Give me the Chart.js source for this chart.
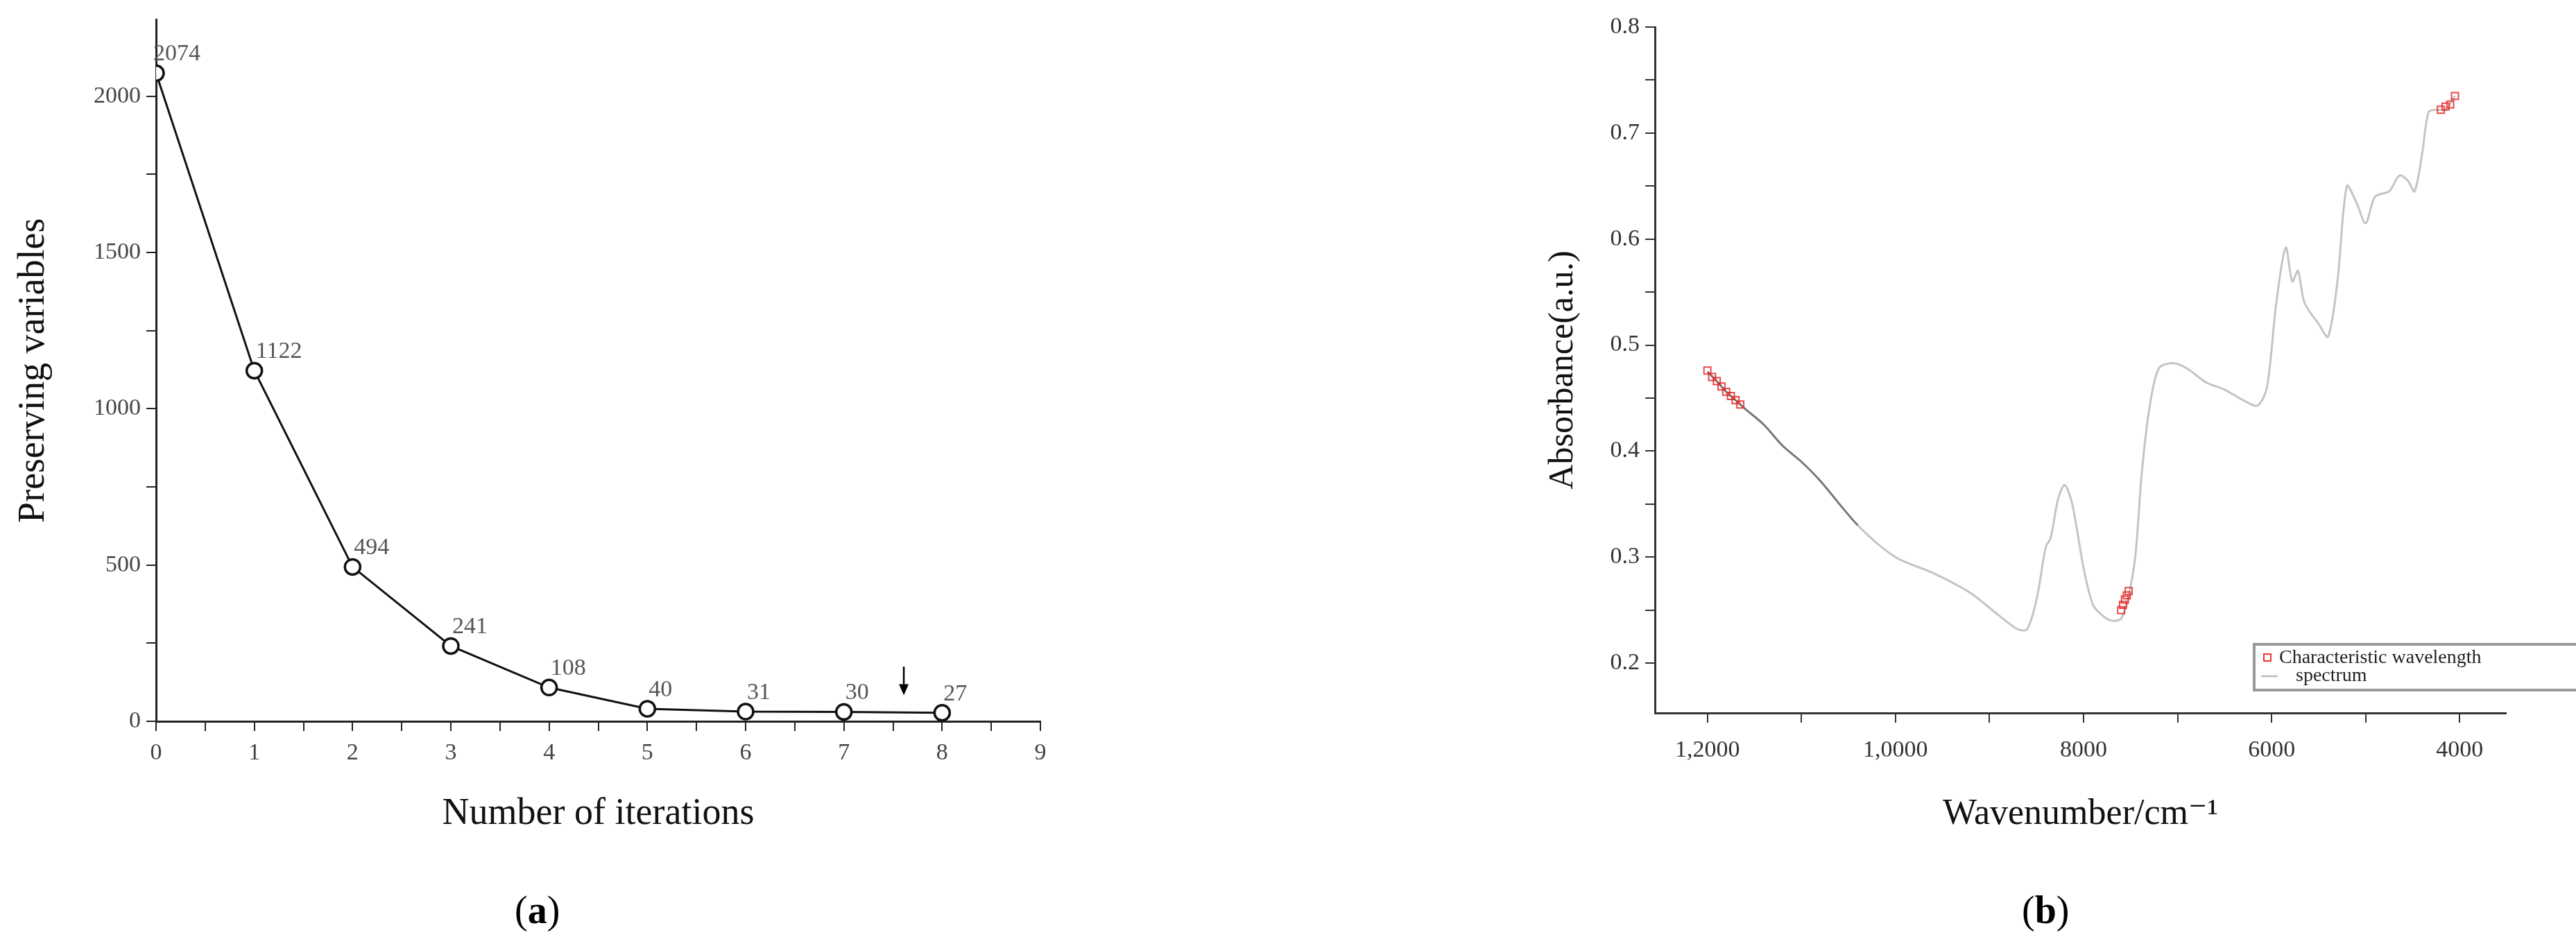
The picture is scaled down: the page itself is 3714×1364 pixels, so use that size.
<!DOCTYPE html>
<html><head><meta charset="utf-8">
<script src="https://cdn.jsdelivr.net/npm/chart.js@4"></script>
<style>
body{margin:0;background:#fff;width:3714px;height:1364px;position:relative;overflow:hidden;font-family:"Liberation Serif","DejaVu Serif",serif}
canvas{position:absolute;top:0}
.cap{position:absolute;top:1280px;font-size:56px;color:#000}
</style></head><body>
<canvas id="c1" width="1560" height="1210" style="left:0"></canvas>
<canvas id="c2" width="1494" height="1210" style="left:2220px"></canvas>
<div class="cap" style="left:742px">(<b>a</b>)</div>
<div class="cap" style="left:2915px">(<b>b</b>)</div>
<script>
const iterations=[0,1,2,3,4,5,6,7,8];
const preserved=[2074,1122,494,241,108,40,31,30,27];
const iterTicks=[0,0.5,1,1.5,2,2.5,3,3.5,4,4.5,5,5.5,6,6.5,7,7.5,8,8.5,9];
const varTicks=[0,250,500,750,1000,1250,1500,1750,2000];
const arrowPos=[7.61,175,83];

const waveNum=[12000,11900,11800,11700,11600,11400,11200,11000,10800,10400,10000,9600,9200,8900,8700,8600,8500,8400,8350,8270,8200,8120,8000,7900,7800,7700,7600,7530,7450,7380,7300,7200,7050,6900,6700,6500,6300,6150,6050,5950,5850,5780,5720,5650,5500,5400,5300,5200,5100,5000,4900,4750,4640,4550,4480,4400,4330,4250,4150,4050];
const absorb=[0.475,0.466,0.456,0.448,0.44,0.425,0.405,0.39,0.372,0.33,0.30,0.285,0.266,0.245,0.232,0.232,0.26,0.31,0.318,0.355,0.368,0.35,0.29,0.255,0.245,0.24,0.242,0.26,0.30,0.38,0.44,0.478,0.483,0.478,0.465,0.458,0.448,0.443,0.46,0.54,0.592,0.56,0.57,0.54,0.52,0.508,0.56,0.65,0.635,0.615,0.64,0.645,0.66,0.655,0.645,0.68,0.72,0.722,0.722,0.735];
const charWave=[12000,11950,11900,11850,11800,11750,11700,11650,7600,7580,7560,7540,7520,4200,4150,4100,4050];
const charAbs=[0.476,0.47,0.466,0.461,0.456,0.452,0.448,0.444,0.25,0.255,0.26,0.264,0.268,0.722,0.725,0.727,0.735];
const waveTicks=[12000,11000,10000,9000,8000,7000,6000,5000,4000];
const waveLabels={12000:'1,2000',10000:'1,0000',8000:'8000',6000:'6000',4000:'4000'};
const absTicks=[0.2,0.25,0.3,0.35,0.4,0.45,0.5,0.55,0.6,0.65,0.7,0.75,0.8];

const SERIF='"Liberation Serif","DejaVu Serif",serif';
Chart.defaults.font.family=SERIF;
Chart.defaults.animation=false;

const labelPlugin={id:'lbl',afterDatasetsDraw(ch){
  const ctx=ch.ctx,x=ch.scales.x,y=ch.scales.y;
  ctx.save();ctx.fillStyle='#555';ctx.font='34px '+SERIF;ctx.textBaseline='bottom';ctx.textAlign='left';
  preserved.forEach((v,i)=>{ctx.fillText(String(v),x.getPixelForValue(iterations[i])+(i==0?-4:2),y.getPixelForValue(v)-10);});
  const ax=x.getPixelForValue(arrowPos[0]),a1=y.getPixelForValue(arrowPos[1]),a2=y.getPixelForValue(arrowPos[2]);
  ctx.strokeStyle='#000';ctx.fillStyle='#000';ctx.lineWidth=2.5;
  ctx.beginPath();ctx.moveTo(ax,a1);ctx.lineTo(ax,a2-14);ctx.stroke();
  ctx.beginPath();ctx.moveTo(ax-7,a2-16);ctx.lineTo(ax+7,a2-16);ctx.lineTo(ax,a2);ctx.closePath();ctx.fill();
  ctx.restore();}};

new Chart(document.getElementById('c1'),{type:'line',
 data:{datasets:[{data:iterations.map((v,i)=>({x:v,y:preserved[i]})),borderColor:'#111',borderWidth:3,
  pointRadius:11,pointBorderWidth:3.5,pointBackgroundColor:'#fff',pointBorderColor:'#111',tension:0}]},
 options:{responsive:false,devicePixelRatio:1,layout:{padding:{top:10,right:60,left:12,bottom:0}},
  plugins:{legend:{display:false},tooltip:{enabled:false}},
  scales:{
   x:{type:'linear',min:0,max:9,afterBuildTicks(s){s.ticks=iterTicks.map(v=>({value:v}));},
     afterFit(s){s.height=170;},
     border:{color:'#222',width:3},grid:{drawOnChartArea:false,color:'#222',tickLength:14,lineWidth:2},
     ticks:{color:'#444',font:{size:34},autoSkip:false,maxRotation:0,padding:12,callback:v=>Number.isInteger(v)?String(v):''},
     title:{display:true,text:'Number of iterations',color:'#111',font:{size:54},padding:{top:0}}},
   y:{type:'linear',min:0,max:2245,afterBuildTicks(s){s.ticks=varTicks.map(v=>({value:v}));},
     afterFit(s){s.width=213;},
     border:{color:'#222',width:3},grid:{drawOnChartArea:false,color:'#222',tickLength:14,lineWidth:2},
     ticks:{color:'#444',font:{size:34},autoSkip:false,padding:8,callback:v=>v%500===0?String(v):''},
     title:{display:true,text:'Preserving variables',color:'#111',font:{size:54},padding:{bottom:4}}}}},
 plugins:[labelPlugin]});

const legendPlugin={id:'leg',afterDraw(ch){
  const ctx=ch.ctx;const bx=1030,by=929,bw=470,bh=66;
  ctx.save();ctx.strokeStyle='#999';ctx.lineWidth=4;ctx.strokeRect(bx,by,bw,bh);
  ctx.font='28px '+SERIF;ctx.fillStyle='#222';ctx.textBaseline='middle';ctx.textAlign='left';
  ctx.strokeStyle='#e33';ctx.lineWidth=2;ctx.strokeRect(bx+14,by+14,10,10);
  ctx.fillText('Characteristic wavelength',bx+36,by+20);
  ctx.strokeStyle='#bbb';ctx.lineWidth=2.5;ctx.beginPath();ctx.moveTo(bx+10,by+46);ctx.lineTo(bx+34,by+46);ctx.stroke();
  ctx.fillText('spectrum',bx+60,by+46);
  ctx.restore();}};

new Chart(document.getElementById('c2'),{type:'line',
 data:{datasets:[
  {data:charWave.map((v,i)=>({x:v,y:charAbs[i]})),showLine:false,pointStyle:'rect',pointRadius:7,pointBorderWidth:2,
   pointBorderColor:'rgba(230,40,40,0.85)',pointBackgroundColor:'rgba(255,255,255,0)'},
  {data:waveNum.map((v,i)=>({x:v,y:absorb[i]})),borderColor:'#c4c4c4',borderWidth:3,pointRadius:0,tension:0.3,
   segment:{borderColor:c=>c.p0.parsed.x>10700?'#777':'#c4c4c4'}}]},
 options:{responsive:false,devicePixelRatio:1,layout:{padding:{top:39,right:101,left:0,bottom:0}},
  plugins:{legend:{display:false},tooltip:{enabled:false}},
  scales:{
   x:{type:'linear',reverse:true,min:3508,max:12558,afterBuildTicks(s){s.ticks=waveTicks.map(v=>({value:v}));},
     afterFit(s){s.height=182;},
     border:{color:'#333',width:3},grid:{drawOnChartArea:false,color:'#333',tickLength:14,lineWidth:2},
     ticks:{color:'#333',font:{size:34},autoSkip:false,maxRotation:0,padding:20,callback:v=>waveLabels[v]||''},
     title:{display:true,text:'Wavenumber/cm\u207B\u00B9',color:'#111',font:{size:52},padding:{top:10}}},
   y:{type:'linear',min:0.153,max:0.8,afterBuildTicks(s){s.ticks=absTicks.map(v=>({value:v}));},
     afterFit(s){s.width=166;},
     border:{color:'#333',width:3},grid:{drawOnChartArea:false,color:'#333',tickLength:14,lineWidth:2},
     ticks:{color:'#333',font:{size:34},autoSkip:false,padding:8,callback:v=>Math.abs(v*10-Math.round(v*10))<1e-6?v.toFixed(1):''},
     title:{display:true,text:'Absorbance(a.u.)',color:'#111',font:{size:50},padding:{bottom:16}}}}},
 plugins:[legendPlugin]});
</script></body></html>
